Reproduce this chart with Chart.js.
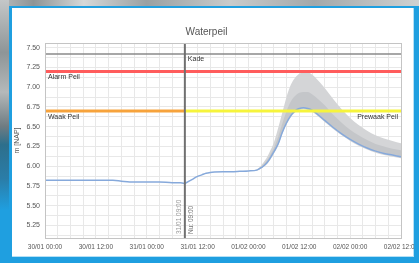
<!DOCTYPE html>
<html><head><meta charset="utf-8">
<script src="https://cdn.jsdelivr.net/npm/chart.js@4.4.1/dist/chart.umd.min.js"></script>
<style>
html,body{margin:0;padding:0;width:419px;height:263px;overflow:hidden;background:#1f9fe0;}
#photoTop{position:absolute;left:0;top:0;width:419px;height:6px;background:linear-gradient(90deg,#b9bcbd 0%,#8e9496 8%,#d6d8d8 20%,#9aa0a2 35%,#c9cbcb 55%,#a3a8aa 75%,#cfd1d1 100%);}
#photoLeft{position:absolute;left:0;top:0;width:9px;height:263px;background:linear-gradient(180deg,#c4c7c8 0%,#8e9597 20%,#b5b9ba 35%,#6f7c82 48%,#2d6f8c 55%,#2a7da8 68%,#1f9fe0 80%,#1f9fe0 100%);}
#panel{position:absolute;left:12px;top:8px;width:401px;height:248px;background:#fff;border-right:1px solid #b4e0f6;border-bottom:1px solid #b4e0f6;}
#wrap{position:absolute;left:12px;top:8px;width:402px;height:249px;}
</style></head>
<body>
<div id="photoTop"></div><div id="photoLeft"></div><div id="panel"></div>
<div id="wrap"><canvas id="c" width="402" height="249"></canvas></div>
<script>
// ---- data ----
const chartTitle = "Waterpeil";
const yAxisTitle = "m [NAP]";
const xTickLabels = ["30/01 00:00","30/01 12:00","31/01 00:00","31/01 12:00","01/02 00:00","01/02 12:00","02/02 00:00","02/02 12:00"];
const nowHour = 33;
const nowLabelLeft = "31/01 09:00";
const nowLabelRight = "Nu: 09:00";

const obsHours  = [0,4,8,12,16,18,20,22,24,27,30,32,33];
const obsValues = [5.82,5.82,5.82,5.82,5.82,5.81,5.80,5.80,5.80,5.80,5.79,5.79,5.78];

const fcHours  = [33,34,35,36,37,38,39,40,42,44,46,48,50,51,52,53,54,55,56,57,58,59,60,61,62,63,64,66,68,70,72,74,76,78,80,82,84];
const fcMedian = [5.78,5.81,5.84,5.87,5.89,5.91,5.92,5.925,5.93,5.93,5.935,5.94,5.95,5.98,6.02,6.09,6.18,6.28,6.43,6.55,6.64,6.70,6.73,6.74,6.73,6.71,6.67,6.58,6.49,6.41,6.34,6.28,6.23,6.19,6.16,6.14,6.12];

const bandHours  = [48,50,52,53,54,55,56,57,58,59,60,61,62,63,64,66,68,70,72,74,76,78,80,82,84];
const bandUpper  = [5.94,5.96,6.08,6.18,6.30,6.48,6.68,6.88,7.03,7.12,7.17,7.19,7.19,7.16,7.11,6.99,6.85,6.72,6.61,6.52,6.45,6.39,6.35,6.32,6.29];
const innerUpper = [5.94,5.955,6.05,6.13,6.23,6.37,6.54,6.70,6.82,6.89,6.93,6.94,6.94,6.91,6.87,6.77,6.65,6.55,6.46,6.39,6.33,6.28,6.25,6.22,6.20];
const innerLower = [5.94,5.95,6.02,6.09,6.18,6.28,6.43,6.55,6.64,6.70,6.73,6.74,6.73,6.71,6.67,6.58,6.49,6.41,6.34,6.28,6.23,6.19,6.16,6.14,6.12];
const bandLower  = [5.94,5.945,6.01,6.07,6.16,6.26,6.41,6.53,6.62,6.68,6.71,6.72,6.71,6.69,6.65,6.56,6.47,6.39,6.32,6.26,6.21,6.17,6.14,6.12,6.10];

const kadeLevel = 7.42,  kadeLabel = "Kade";
const alarmLevel = 7.20, alarmLabel = "Alarm Peil";
const waakLevel = 6.70,  waakLabel = "Waak Peil", prewaakLabel = "Prewaak Peil";

const xMin = 0, xMax = 84;
const yMin = 5.09, yMax = 7.56;

// ---- build ----
const pts = (xs, ys) => xs.map((x,i)=>({x:x,y:ys[i]}));
const FONT = "'Liberation Sans', Arial, sans-serif";

const labelPlugin = {
  id:'labels',
  afterDatasetsDraw(chart){
    const {ctx, scales:{x,y}, chartArea:ca} = chart;
    ctx.save();
    ctx.font = "7px " + FONT;
    ctx.fillStyle = "#333";
    ctx.textBaseline = "middle";
    ctx.textAlign = "left";
    ctx.fillText(alarmLabel, x.getPixelForValue(xMin)+3, y.getPixelForValue(alarmLevel)+6);
    ctx.fillText(waakLabel, x.getPixelForValue(xMin)+3, y.getPixelForValue(waakLevel)+6);
    ctx.fillText(kadeLabel, x.getPixelForValue(nowHour)+3, y.getPixelForValue(kadeLevel)+5);
    ctx.textAlign = "right";
    ctx.fillText(prewaakLabel, x.getPixelForValue(xMax)-3, y.getPixelForValue(waakLevel)+6);
    const nx = x.getPixelForValue(nowHour);
    ctx.font = "6.5px " + FONT;
    ctx.fillStyle = "#999";
    ctx.save();
    ctx.translate(nx-6, ca.bottom-4);
    ctx.rotate(-Math.PI/2);
    ctx.textAlign = "left";
    ctx.fillText(nowLabelLeft, 0, 0);
    ctx.restore();
    ctx.fillStyle = "#777";
    ctx.save();
    ctx.translate(nx+6, ca.bottom-4);
    ctx.rotate(-Math.PI/2);
    ctx.textAlign = "left";
    ctx.fillText(nowLabelRight, 0, 0);
    ctx.restore();
    ctx.restore();
  }
};

const borderPlugin = {
  id:'border',
  beforeDraw(chart){
    const {ctx, chartArea:ca} = chart;
    ctx.save();
    ctx.fillStyle = "#fff";
    ctx.fillRect(ca.left, ca.top, ca.right-ca.left, ca.bottom-ca.top);
    ctx.restore();
  },
  afterDraw(chart){
    const {ctx, chartArea:ca} = chart;
    ctx.save();
    ctx.strokeStyle = "#c4c4c4";
    ctx.lineWidth = 1;
    ctx.strokeRect(Math.round(ca.left)+0.5, Math.round(ca.top)+0.5, Math.round(ca.right-ca.left), Math.round(ca.bottom-ca.top));
    ctx.restore();
  }
};

const flat = (v, a, b) => [{x:a,y:v},{x:b,y:v}];

new Chart(document.getElementById('c'), {
  type:'line',
  data:{datasets:[
    {data:pts(bandHours,bandUpper), borderWidth:0, pointRadius:0, fill:'+1', backgroundColor:'#d4d5d7', order:10, cubicInterpolationMode:'monotone'},
    {data:pts(bandHours,bandLower), borderWidth:0, pointRadius:0, fill:false, order:10, cubicInterpolationMode:'monotone'},
    {data:pts(bandHours,innerUpper), borderWidth:0, pointRadius:0, fill:'+1', backgroundColor:'#c4c6c9', order:9, cubicInterpolationMode:'monotone'},
    {data:pts(bandHours,innerLower), borderWidth:0, pointRadius:0, fill:false, order:9, cubicInterpolationMode:'monotone'},
    {data:pts(obsHours,obsValues), borderColor:'#86a9db', borderWidth:1.5, pointRadius:0, fill:false, order:5, cubicInterpolationMode:'monotone'},
    {data:pts(fcHours,fcMedian), borderColor:'#86a9db', borderWidth:1.5, pointRadius:0, fill:false, order:5, cubicInterpolationMode:'monotone'},
    {data:flat(kadeLevel,xMin,xMax), borderColor:'#8a8a8a', borderWidth:1.5, pointRadius:0, fill:false, order:1},
    {data:flat(alarmLevel,xMin,xMax), borderColor:'#ff5c5c', borderWidth:3, pointRadius:0, fill:false, order:1},
    {data:flat(waakLevel,xMin,nowHour), borderColor:'#f7a33c', borderWidth:3, pointRadius:0, fill:false, order:1},
    {data:flat(waakLevel,nowHour,xMax), borderColor:'#f6f43c', borderWidth:3, pointRadius:0, fill:false, order:1},
    {data:[{x:nowHour,y:yMin},{x:nowHour,y:yMax}], borderColor:'#707070', borderWidth:2, pointRadius:0, fill:false, order:0}
  ]},
  options:{
    animation:false, responsive:false, devicePixelRatio:1,
    layout:{padding:{left:0,right:13,top:0,bottom:0}},
    plugins:{
      legend:{display:false}, tooltip:{enabled:false},
      title:{display:true, text:chartTitle, color:'#555', font:{family:FONT,size:10,weight:'normal'}, padding:{top:18,bottom:5}}
    },
    scales:{
      x:{type:'linear', min:xMin, max:xMax,
        ticks:{stepSize:3, includeBounds:false, autoSkip:false, maxRotation:0, minRotation:0, color:'#555', font:{family:FONT,size:6.5}, padding:5,
          callback:(v)=> (v%12===0 ? xTickLabels[v/12] : '')},
        grid:{color:'#e8e8e8', lineWidth:1, drawTicks:false},
        border:{display:false},
        afterFit:(s)=>{s.height=19; s.paddingLeft=0; s.paddingRight=0;}
      },
      y:{type:'linear', min:yMin, max:yMax,
        afterBuildTicks:(s)=>{ s.ticks = s.ticks.filter(t=>Math.abs(t.value/0.125-Math.round(t.value/0.125))<1e-6); },
        ticks:{stepSize:0.125, includeBounds:false, autoSkip:false, color:'#555', font:{family:FONT,size:7}, padding:5,
          callback:(v)=> (Math.abs(v/0.25-Math.round(v/0.25))<1e-6 ? v.toFixed(2) : '')},
        grid:{color:'#e8e8e8', lineWidth:1, drawTicks:false},
        border:{display:false},
        title:{display:true, text:yAxisTitle, color:'#555', font:{family:FONT,size:7}, padding:{top:1,bottom:0}},
        afterFit:(s)=>{s.width=33; s.paddingTop=0; s.paddingBottom=0;}
      }
    }
  },
  plugins:[borderPlugin,labelPlugin]
});
</script>
</body></html>
